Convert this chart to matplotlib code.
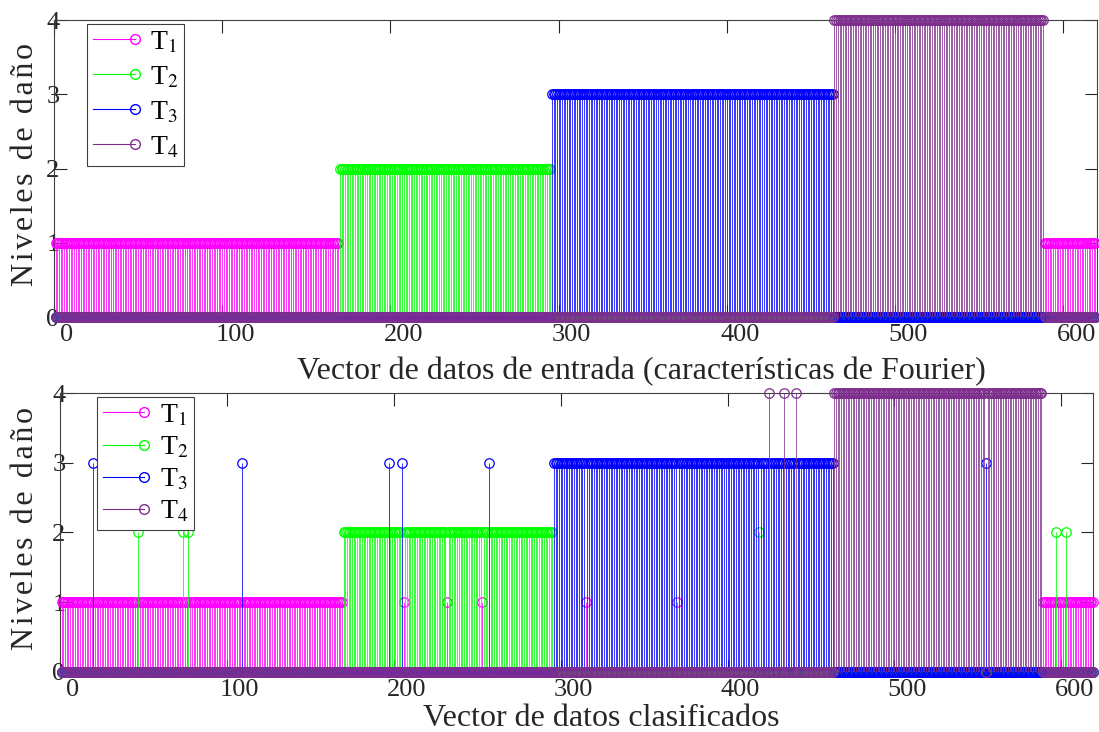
import numpy as np
import matplotlib
matplotlib.use('Agg')
import matplotlib.pyplot as plt
import matplotlib.transforms as mtransforms
from matplotlib.lines import Line2D
from matplotlib.legend_handler import HandlerBase

plt.rcParams['font.family'] = ['Liberation Serif', 'DejaVu Serif']
plt.rcParams['mathtext.fontset'] = 'stix'

# ---------------- data ----------------
n_datos = 619
# segments of the input vector: (start, end, class), inclusive indices
seg_inicio = [1, 170, 296, 464, 589]
seg_fin = [169, 295, 463, 588, 619]
seg_clase = [1, 2, 3, 4, 1]

# misclassified samples in the classified vector
err_indice = [20, 47, 74, 77, 109, 197, 205, 206, 232, 253, 257, 315, 370,
              419, 425, 434, 441, 555, 597, 603]
err_clase = [3, 2, 2, 2, 3, 3, 3, 1, 1, 1, 3, 1, 1,
             2, 4, 4, 4, 3, 2, 2]

clases = [1, 2, 3, 4]
etiquetas = [r'T$_1$', r'T$_2$', r'T$_3$', r'T$_4$']
colores = ['#ff00ff', '#00ff00', '#0000ff', '#7e2f8e']

x_ticks = [0, 100, 200, 300, 400, 500, 600]
y_ticks = [0, 1, 2, 3, 4]

xlabel_sup = 'Vector de datos de entrada (características de Fourier)'
xlabel_inf = 'Vector de datos clasificados'
ylabel_txt = 'Niveles de daño'

# ---------------- build label vectors ----------------
x = np.arange(1, n_datos + 1)
etiqueta_real = np.zeros(n_datos, dtype=int)
for a, b, c in zip(seg_inicio, seg_fin, seg_clase):
    etiqueta_real[a - 1:b] = c
etiqueta_pred = etiqueta_real.copy()
for i, c in zip(err_indice, err_clase):
    etiqueta_pred[i - 1] = c


class StemHandler(HandlerBase):
    def create_artists(self, legend, orig_handle, xdescent, ydescent,
                       width, height, fontsize, trans):
        col = orig_handle.get_color()
        y = height / 2.0 - ydescent
        ln = Line2D([-xdescent, width - xdescent], [y, y], color=col, lw=0.8)
        mk = Line2D([width - xdescent], [y], marker='o', ls='none',
                    mfc='none', mec=col, ms=7, mew=1.0)
        ln.set_transform(trans)
        mk.set_transform(trans)
        return [ln, mk]


fig = plt.figure(figsize=(10.99, 7.32), dpi=100)
ax1 = fig.add_axes([0.0491, 0.5669, 0.9490, 0.4057])
ax2 = fig.add_axes([0.0546, 0.0820, 0.9399, 0.3811])

configs = [
    (ax1, etiqueta_real, (0, 620), xlabel_sup, (0.563, -0.135), (0.032, 0.987), 0.34),
    (ax2, etiqueta_pred, (1, 619), xlabel_inf, (0.524, -0.115), (0.036, 0.986), 0.24),
]

for ax, etiq, xl, xlab, xlab_pos, leg_pos, lsp in configs:
    handles = []
    for k, (c, col) in enumerate(zip(clases, colores)):
        y = np.where(etiq == c, c, 0)
        z = 2 + 2 * k
        ax.vlines(x, 0, y, colors=col, lw=0.55, zorder=z)
        ax.plot(x, y, 'o', ls='none', mfc='none', mec=col, ms=6.8, mew=0.9,
                clip_on=False, zorder=z + 1)
        handles.append(Line2D([], [], color=col))
    ax.set_xlim(*xl)
    ax.set_ylim(0, 4)
    ax.set_xticks(x_ticks)
    ax.set_yticks(y_ticks)
    ax.tick_params(direction='in', length=9, width=0.8, top=True, right=True,
                   labelsize=19, color='#262626', labelcolor='#262626')
    ax.tick_params(axis='x', pad=5)
    ax.tick_params(axis='y', pad=-4)
    for s in ax.spines.values():
        s.set_color('#404040')
        s.set_linewidth(0.8)
    off = mtransforms.ScaledTranslation(0.13, 0, fig.dpi_scale_trans)
    for lbl in ax.get_xticklabels():
        lbl.set_transform(lbl.get_transform() + off)
    ax.set_xlabel(xlab, fontsize=23, color='#262626')
    ax.xaxis.set_label_coords(*xlab_pos)
    ax.xaxis.label.set_va('top')
    ax.set_ylabel('\u200a'.join(ylabel_txt), fontsize=23, color='#262626')
    leg = ax.legend(handles, etiquetas, handler_map={Line2D: StemHandler()},
                    loc='upper left', bbox_to_anchor=leg_pos, borderaxespad=0,
                    fontsize=20, handlelength=1.5, handletextpad=0.55,
                    labelspacing=lsp, borderpad=0.2, fancybox=False,
                    framealpha=1, edgecolor='#404040')
    leg.get_frame().set_linewidth(0.8)
    leg.set_zorder(20)

ax1.yaxis.set_label_coords(-0.0134, 0.515)
ax2.yaxis.set_label_coords(-0.019, 0.515)

fig.savefig('out.png', dpi=100)
